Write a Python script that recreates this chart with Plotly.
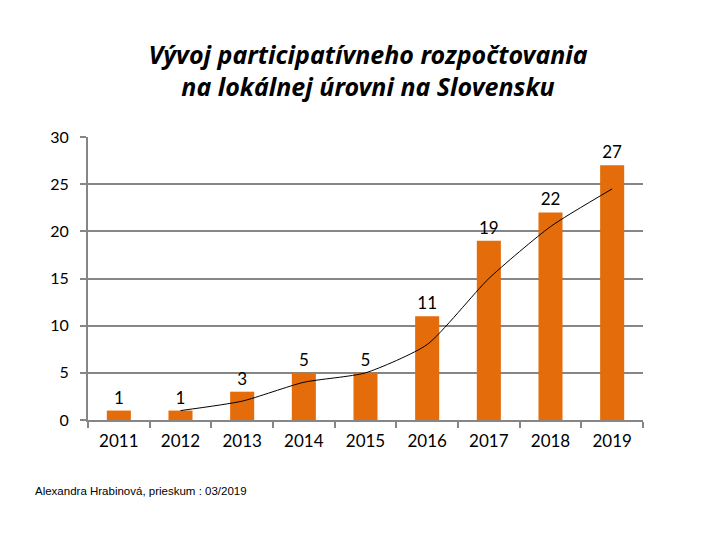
import plotly.graph_objects as go

years = ["2011", "2012", "2013", "2014", "2015", "2016", "2017", "2018", "2019"]
counts = [1, 1, 3, 5, 5, 11, 19, 22, 27]
trend_years = ["2012", "2013", "2014", "2015", "2016", "2017", "2018", "2019"]
trend_values = [1, 2, 4, 5, 8, 15, 20.5, 24.5]

FONT = "Lato"
GRID = "#868686"

fig = go.Figure()
fig.add_trace(go.Bar(
    x=years, y=counts,
    marker=dict(color="#E46C0A", line=dict(width=0)),
    text=[str(v) for v in counts], textposition="outside",
    textfont=dict(family=FONT, size=17, color="black"),
    cliponaxis=False,
))
fig.add_trace(go.Scatter(
    x=trend_years, y=trend_values, mode="lines",
    line=dict(color="black", width=1, shape="spline", smoothing=0.6),
))

fig.update_layout(
    width=720, height=540,
    paper_bgcolor="white", plot_bgcolor="white",
    showlegend=False,
    bargap=0.61,
    margin=dict(l=80, r=85, t=129, b=128),
    title=dict(
        text="<b><i>Vývoj participatívneho rozpočtovania<br>na lokálnej úrovni na Slovensku</i></b>",
        x=0.5, xanchor="center", y=0.897, yanchor="middle",
        font=dict(family="Noto Sans", size=25, color="black"),
    ),
    annotations=[dict(
        text="Alexandra Hrabinová, prieskum : 03/2019",
        xref="paper", yref="paper", x=-0.099, y=-0.251,
        xanchor="left", yanchor="middle", showarrow=False,
        font=dict(family="Liberation Sans", size=11.5, color="black"),
    )],
)
fig.update_xaxes(
    type="category",
    showline=True, linecolor=GRID, linewidth=2,
    ticks="outside", tickson="boundaries", ticklen=6, tickcolor=GRID, tickwidth=2,
    tickfont=dict(family=FONT, size=17, color="black"),
    ticklabelstandoff=5,
    showgrid=False,
)
fig.update_yaxes(
    range=[0, 30], dtick=5,
    showline=True, linecolor=GRID, linewidth=2,
    ticks="outside", ticklen=6, tickcolor=GRID, tickwidth=2,
    showgrid=True, gridcolor=GRID, gridwidth=2,
    zeroline=False,
    tickfont=dict(family=FONT, size=16, color="black"),
    ticklabelstandoff=8,
)

fig.write_html("out.html")
